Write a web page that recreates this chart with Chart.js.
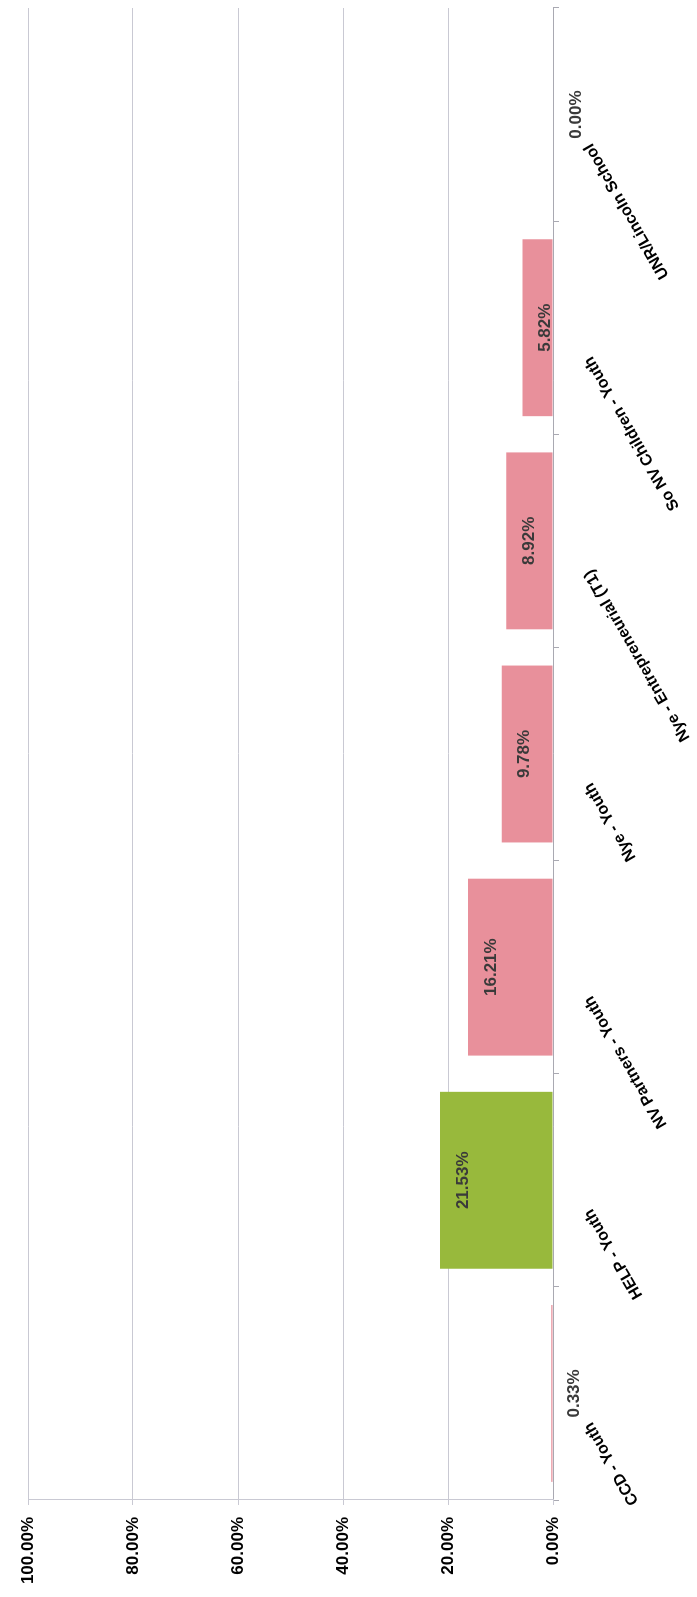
<!DOCTYPE html>
<html>
<head>
<meta charset="utf-8">
<script src="https://cdn.jsdelivr.net/npm/chart.js@4.4.1/dist/chart.umd.min.js"></script>
<style>
    html, body {
        margin: 0;
        padding: 0;
        background: #ffffff;
        overflow: hidden;
    }
    #page {
        position: relative;
        width: 697px;
        height: 1597px;
    }
    /* the chart was scanned on its side, so the canvas is drawn upright and turned */
    #turn {
        position: absolute;
        left: 0;
        top: 0;
        width: 1597px;
        height: 697px;
        transform-origin: 0 0;
        transform: translateY(1597px) rotate(-90deg);
    }
</style>
</head>
<body>
<div id="page">
    <div id="turn">
        <canvas id="youthChart" width="1597" height="697"></canvas>
    </div>
</div>
<script>
// categories, left to right on the upright chart
const programs = [
    'CCD - Youth',
    'HELP - Youth',
    'NV Partners - Youth',
    'Nye - Youth',
    'Nye - Entrepreneurial (T1)',
    'So NV Children - Youth',
    'UNR/Lincoln School'
];

// percent values for each program
const rates = [0.33, 21.53, 16.21, 9.78, 8.92, 5.82, 0.00];

// bar colours (HELP is highlighted)
const barColors = ['#e8909b', '#98b93c', '#e8909b', '#e8909b', '#e8909b', '#e8909b', '#e8909b'];

// value axis ticks
const valueTicks = [0, 20, 40, 60, 80, 100];

// draws the value text just inside the end of each bar
const barValueLabels = {
    id: 'barValueLabels',
    afterDatasetsDraw(chart) {
        const ctx = chart.ctx;
        const meta = chart.getDatasetMeta(0);
        ctx.save();
        ctx.font = 'bold 17px "Liberation Sans", Arial, sans-serif';
        ctx.fillStyle = '#3a3a3a';
        ctx.textAlign = 'center';
        ctx.textBaseline = 'middle';
        meta.data.forEach((bar, i) => {
            ctx.fillText(rates[i].toFixed(2) + '%', bar.x, bar.y + 23);
        });
        ctx.restore();
    }
};

const ctx = document.getElementById('youthChart');

new Chart(ctx, {
    type: 'bar',
    data: {
        labels: programs,
        datasets: [{
            data: rates,
            backgroundColor: barColors,
            borderWidth: 0,
            barPercentage: 0.83,
            categoryPercentage: 1.0
        }]
    },
    options: {
        responsive: false,
        animation: false,
        devicePixelRatio: 1,
        layout: {
            padding: {top: 28, right: 8, left: 0, bottom: 0}
        },
        plugins: {
            legend: {display: false},
            tooltip: {enabled: false}
        },
        scales: {
            x: {
                afterFit: (scale) => {
                    scale.height = 144;
                },
                grid: {
                    display: true,
                    drawOnChartArea: false,
                    drawTicks: true,
                    tickLength: 6,
                    offset: true,
                    color: '#a9a9b2'
                },
                border: {
                    display: true,
                    color: '#a9a9b2',
                    width: 1
                },
                ticks: {
                    minRotation: 30,
                    maxRotation: 30,
                    autoSkip: false,
                    padding: 21,
                    labelOffset: -30,
                    color: '#000000',
                    font: {
                        family: '"Liberation Sans", Arial, sans-serif',
                        size: 16,
                        weight: 'bold'
                    }
                }
            },
            y: {
                min: 0,
                max: 100,
                afterFit: (scale) => {
                    scale.width = 97;
                },
                afterBuildTicks: (scale) => {
                    scale.ticks = valueTicks.map(v => ({value: v}));
                },
                grid: {
                    color: '#c9c9d3',
                    lineWidth: 1,
                    drawTicks: true,
                    tickLength: 5
                },
                border: {
                    display: true,
                    color: '#c9c9d3',
                    width: 1
                },
                ticks: {
                    padding: 12,
                    color: '#000000',
                    font: {
                        family: '"Liberation Sans", Arial, sans-serif',
                        size: 17,
                        weight: 'bold'
                    },
                    callback: (value) => value.toFixed(2) + '%'
                }
            }
        }
    },
    plugins: [barValueLabels]
});
</script>
</body>
</html>
